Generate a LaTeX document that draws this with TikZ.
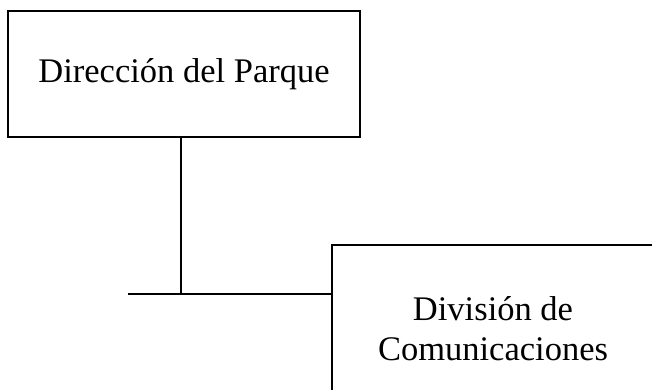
\documentclass[tikz,border=0pt]{standalone}
\usepackage{fontspec}
\setmainfont{Liberation Serif}
\begin{document}
\begin{tikzpicture}[x=1pt,y=-1pt,
  boxtext/.style={inner sep=0pt,align=center,font=\fontsize{34.5}{40}\selectfont},
  box/.style={draw=black,line width=2pt,rectangle,inner sep=0pt,boxtext},
  link/.style={draw=black,line width=2pt}]
\useasboundingbox (0,0) rectangle (652,390);
\clip (0,0) rectangle (652,390);
\node[box,minimum width=352pt,minimum height=126pt] (dir) at (184,74) {Dirección del Parque};
\node[box,minimum width=350pt,minimum height=168pt] (div) at (507,329) {};
\node[boxtext] (divtext) at (493,329) {División de\\Comunicaciones};
\coordinate (j) at (181,294);
\coordinate (l) at (128,294);
\draw[link] (dir.south -| j) -- (j);
\draw[link] (l) -- (l -| div.west);
\end{tikzpicture}
\end{document}
